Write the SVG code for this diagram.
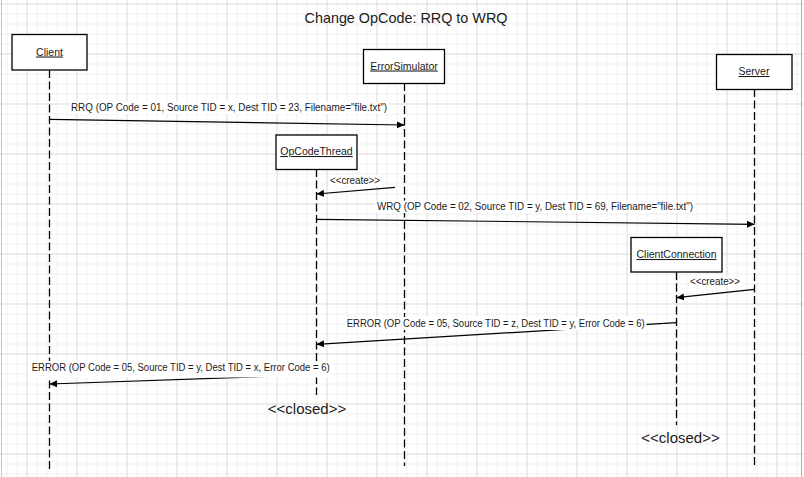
<svg xmlns="http://www.w3.org/2000/svg" width="804" height="477" viewBox="0 0 804 477">
<style>
text{font-family:"Liberation Sans",Arial,sans-serif;fill:#1a1a1a}
.box{fill:#fff;stroke:#000;stroke-width:1.3}
.name{font-size:10.5px;text-anchor:middle;text-decoration:underline}
.life{stroke:#000;stroke-width:1.3;stroke-dasharray:8 3.5;fill:none}
.msg{stroke:#000;stroke-width:1.2;fill:none;marker-end:url(#arr)}
.lbl{font-size:10px}
.bg{fill:#fff}
.closed{font-size:15px;text-anchor:middle}
</style>
<defs>
<pattern id="minor" x="6.5" y="3.5" width="10" height="10" patternUnits="userSpaceOnUse">
<path d="M0,0 V10 M0,0 H10" stroke="#e1e1e1" stroke-width="1" fill="none"/>
</pattern>
<pattern id="major" x="26.5" y="3.5" width="50" height="50" patternUnits="userSpaceOnUse">
<path d="M0,0 V50 M0,0 H50" stroke="#cdcdcd" stroke-width="1" fill="none"/>
</pattern>
<marker id="arr" markerUnits="userSpaceOnUse" markerWidth="9" markerHeight="8" refX="7.5" refY="3.5" orient="auto">
<path d="M0,0 L7.5,3.5 L0,7 z" fill="#000"/>
</marker>
</defs>
<rect width="804" height="477" fill="#fff"/>
<rect width="804" height="477" fill="url(#minor)"/>
<rect width="804" height="477" fill="url(#major)"/>
<line x1="1.5" y1="0" x2="1.5" y2="477" stroke="#c8c8c8"/>
<line x1="801.5" y1="0" x2="801.5" y2="477" stroke="#b0b0b0"/>
<text x="406" y="23" font-size="14.5" text-anchor="middle" textLength="203" lengthAdjust="spacingAndGlyphs">Change OpCode: RRQ to WRQ</text>
<g id="client">
<line class="life" x1="49.5" y1="70" x2="49.5" y2="471"/>
<rect class="box" x="12" y="34.5" width="75" height="35.5"/>
<text class="name" x="49.5" y="55.5">Client</text>
</g>
<g id="errorSimulator">
<line class="life" x1="404.5" y1="83" x2="404.5" y2="466"/>
<rect class="box" x="363.5" y="49.5" width="81" height="34"/>
<text class="name" x="404" y="69.5">ErrorSimulator</text>
</g>
<g id="server">
<line class="life" x1="754.5" y1="89" x2="754.5" y2="465"/>
<rect class="box" x="716.5" y="54.5" width="75.5" height="35"/>
<text class="name" x="754" y="75">Server</text>
</g>
<g id="opCodeThread">
<line class="life" x1="316.5" y1="169" x2="316.5" y2="395"/>
<rect class="box" x="276" y="135" width="81" height="34.5"/>
<text class="name" x="316.5" y="155">OpCodeThread</text>
<text class="closed" x="307" y="413.5">&lt;&lt;closed&gt;&gt;</text>
</g>
<g id="clientConnection">
<line class="life" x1="676.5" y1="272" x2="676.5" y2="425"/>
<rect class="box" x="631" y="237.5" width="91" height="34.5"/>
<text class="name" x="676.5" y="258">ClientConnection</text>
<text class="closed" x="680.5" y="443">&lt;&lt;closed&gt;&gt;</text>
</g>
<g id="connectors">
<line class="msg" x1="49.5" y1="119.3" x2="404.5" y2="125"/>
<rect class="bg" x="69" y="101.5" width="320" height="12.5"/>
<text class="lbl" x="71" y="110.7" textLength="316" lengthAdjust="spacingAndGlyphs">RRQ (OP Code = 01, Source TID = x, Dest TID = 23, Filename="file.txt")</text>

<line class="msg" x1="395" y1="187.3" x2="316.5" y2="194"/>
<rect class="bg" x="329" y="175" width="53" height="11"/>
<text class="lbl" x="330" y="183.7" textLength="50" lengthAdjust="spacingAndGlyphs">&lt;&lt;create&gt;&gt;</text>

<line class="msg" x1="316.5" y1="219.3" x2="754.5" y2="224.3"/>
<rect class="bg" x="375" y="200.5" width="320" height="12.5"/>
<text class="lbl" x="377" y="209.5" textLength="316" lengthAdjust="spacingAndGlyphs">WRQ (OP Code = 02, Source TID = y, Dest TID = 69, Filename="file.txt")</text>

<line class="msg" x1="754.5" y1="289.3" x2="676.5" y2="297.7"/>
<rect class="bg" x="689" y="276.5" width="53" height="11"/>
<text class="lbl" x="690" y="285.3" textLength="50" lengthAdjust="spacingAndGlyphs">&lt;&lt;create&gt;&gt;</text>

<line class="msg" x1="676.5" y1="322.7" x2="316.5" y2="344.3"/>
<rect class="bg" x="345" y="317" width="301.5" height="13"/>
<text class="lbl" x="346.7" y="326.7" textLength="298" lengthAdjust="spacingAndGlyphs">ERROR (OP Code = 05, Source TID = z, Dest TID = y, Error Code = 6)</text>

<line class="msg" x1="316.5" y1="374.7" x2="49.5" y2="384"/>
<rect class="bg" x="30" y="361" width="302" height="16.5"/>
<text class="lbl" x="31.7" y="370.7" textLength="298" lengthAdjust="spacingAndGlyphs">ERROR (OP Code = 05, Source TID = y, Dest TID = x, Error Code = 6)</text>
</g>
</svg>
